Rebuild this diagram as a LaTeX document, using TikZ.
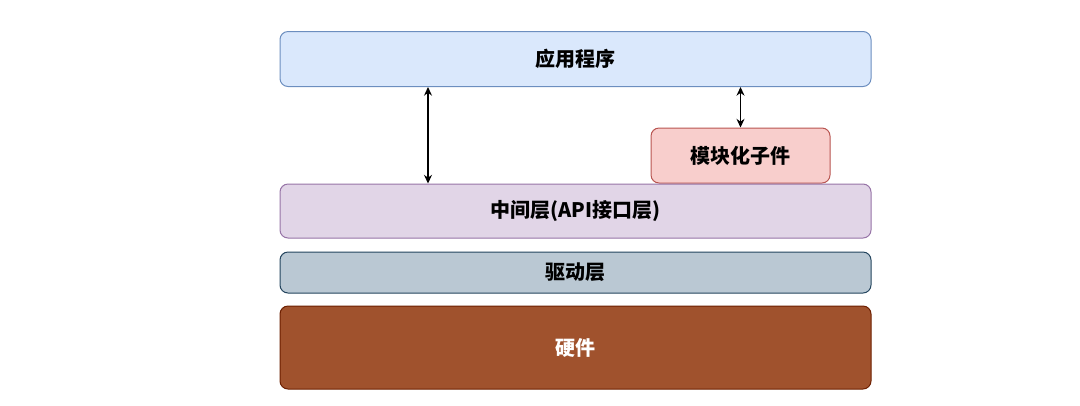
\documentclass[tikz,border=0pt]{standalone}
\usepackage{fontspec}
\newfontfamily\cjk{Noto Sans CJK SC}
\usetikzlibrary{arrows.meta}
\definecolor{appfill}{HTML}{DAE8FC}
\definecolor{appline}{HTML}{6C8EBF}
\definecolor{modfill}{HTML}{F8CECC}
\definecolor{modline}{HTML}{B85450}
\definecolor{midfill}{HTML}{E1D5E7}
\definecolor{midline}{HTML}{9673A6}
\definecolor{drvfill}{HTML}{BAC8D3}
\definecolor{drvline}{HTML}{23445D}
\definecolor{hwfill}{HTML}{A0522D}
\definecolor{hwline}{HTML}{6D1F00}

\begin{document}
\begin{tikzpicture}[
        x=0.75pt, y=-0.75pt,
        layer/.style={rectangle, rounded corners=6pt, line width=0.75pt,
            inner sep=0pt, font=\cjk\bfseries\fontsize{15}{17}\selectfont},
        link/.style={line width=0.9pt, {Stealth[length=6.5pt,width=6pt]}-{Stealth[length=6.5pt,width=6pt]}},
    ]
\useasboundingbox (0,0) rectangle (1080,405);

% layers
\node[layer, fill=appfill, draw=appline, minimum width=591*0.75pt, minimum height=55*0.75pt] (app) at (575.5,59) {应用程序};
\node[layer, fill=modfill, draw=modline, minimum width=179*0.75pt, minimum height=55*0.75pt] (mod) at (740.5,155.5) {模块化子件};
\node[layer, fill=midfill, draw=midline, minimum width=591*0.75pt, minimum height=54*0.75pt] (mid) at (575.5,211) {中间层(API接口层)};
\node[layer, fill=drvfill, draw=drvline, minimum width=591*0.75pt, minimum height=41*0.75pt] (drv) at (575.5,272.5) {驱动层};
\node[layer, fill=hwfill, draw=hwline, text=white, minimum width=591*0.75pt, minimum height=83*0.75pt] (hw) at (575.5,347.5) {硬件};

% links
\coordinate (appx) at (428,0);
\draw[link] (app.south -| appx) -- (mid.north -| appx);
\draw[link] (mod.north) -- (mod.north |- app.south);
\end{tikzpicture}
\end{document}
